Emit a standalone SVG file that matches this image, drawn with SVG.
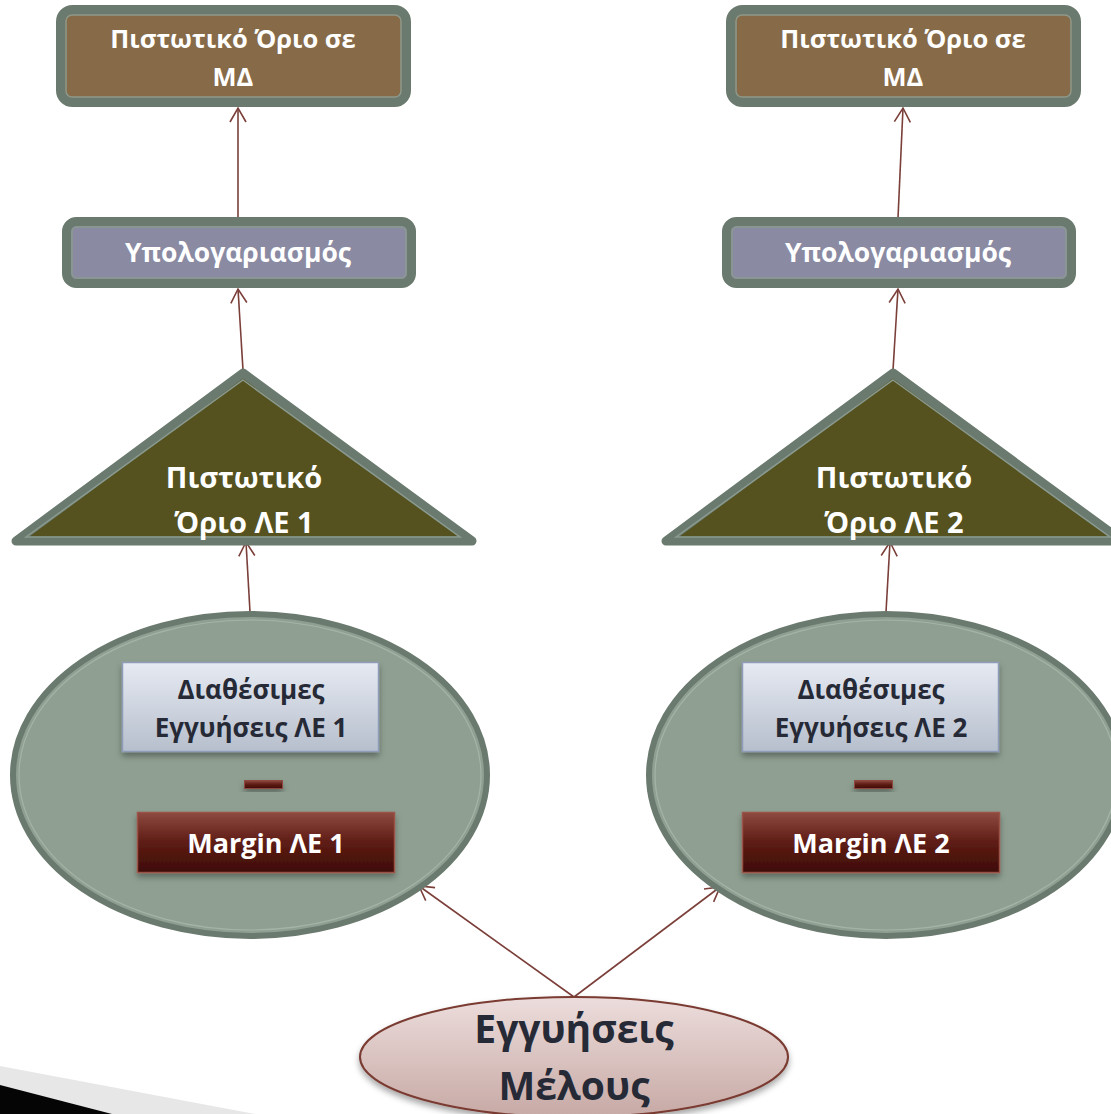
<svg xmlns="http://www.w3.org/2000/svg" width="1111" height="1114" viewBox="0 0 1111 1114">
<style>
.t{font-family:"Open Sans","Noto Sans","DejaVu Sans",sans-serif;font-weight:bold;text-anchor:middle}
.w{fill:#ffffff}
.d{fill:#262a36}
.outer{stroke:#6b7a6f;stroke-width:9}
.oe{stroke:#6b7a6f;stroke-width:6}
.inner{fill:none;stroke:#8a9a8f;stroke-width:1.5}
.ie{fill:none;stroke:#a6b4a8;stroke-width:1.2}
.con{stroke:#7b3f3a;stroke-width:1.6;fill:none}
</style>
<defs>
<marker id="ah" viewBox="0 0 20 20" refX="16" refY="10" markerWidth="20" markerHeight="20" markerUnits="userSpaceOnUse" orient="auto">
<path d="M2,2 L16,10 L2,18" fill="none" stroke="#7b3f3a" stroke-width="1.6"/>
</marker>
<linearGradient id="gBlue" x1="0" y1="0" x2="0" y2="1"><stop offset="0" stop-color="#e6eaf2"/><stop offset="1" stop-color="#b6bfcd"/></linearGradient>
<linearGradient id="gRed" x1="0" y1="0" x2="0" y2="1"><stop offset="0" stop-color="#8d4a40"/><stop offset="0.5" stop-color="#5e1c14"/><stop offset="1" stop-color="#3e0c07"/></linearGradient>
<linearGradient id="gPink" x1="0" y1="0" x2="0" y2="1"><stop offset="0" stop-color="#ecdddc"/><stop offset="1" stop-color="#c7a9a5"/></linearGradient>
<filter id="sh" x="-20%" y="-20%" width="140%" height="160%"><feDropShadow dx="0" dy="4" stdDeviation="3" flood-color="#000" flood-opacity="0.35"/></filter>
</defs>

<!-- background decoration -->
<path d="M0,1066 L255,1114 L0,1114 Z" fill="#e6e7e6"/>
<path d="M0,1085 L112,1114 L0,1114 Z" fill="#050505"/>

<g id="connectors">
<line class="con" x1="238" y1="218" x2="238" y2="108" marker-end="url(#ah)"/>
<line class="con" x1="243" y1="370" x2="238" y2="289" marker-end="url(#ah)"/>
<line class="con" x1="250" y1="612" x2="246" y2="542" marker-end="url(#ah)"/>
<line class="con" x1="898" y1="218" x2="903" y2="108" marker-end="url(#ah)"/>
<line class="con" x1="893" y1="370" x2="898" y2="289" marker-end="url(#ah)"/>
<line class="con" x1="886" y1="612" x2="890" y2="542" marker-end="url(#ah)"/>
<line class="con" x1="574" y1="997" x2="419" y2="886" marker-end="url(#ah)"/>
<line class="con" x1="574" y1="997" x2="720" y2="887" marker-end="url(#ah)"/>
</g>

<g id="limitMD1">
<rect class="outer" x="60.5" y="9.5" width="346" height="93" rx="12" fill="#876b48"/>
<rect class="inner" x="66" y="15" width="335" height="82" rx="6"/>
<text class="t w" x="233" y="48" font-size="25.5">Πιστωτικό Όριο σε</text>
<text class="t w" x="233" y="86" font-size="25.5">ΜΔ</text>
</g>
<g id="limitMD2">
<rect class="outer" x="730.5" y="9.5" width="346" height="93" rx="12" fill="#876b48"/>
<rect class="inner" x="736" y="15" width="335" height="82" rx="6"/>
<text class="t w" x="903" y="48" font-size="25.5">Πιστωτικό Όριο σε</text>
<text class="t w" x="903" y="86" font-size="25.5">ΜΔ</text>
</g>

<g id="calc1">
<rect class="outer" x="66.5" y="221.5" width="345" height="62" rx="10" fill="#8a8aa3"/>
<rect class="inner" x="72" y="227" width="334" height="51" rx="5"/>
<text class="t w" x="238" y="262" font-size="26.5">Υπολογαριασμός</text>
</g>
<g id="calc2">
<rect class="outer" x="726.5" y="221.5" width="345" height="62" rx="10" fill="#8a8aa3"/>
<rect class="inner" x="732" y="227" width="334" height="51" rx="5"/>
<text class="t w" x="898" y="262" font-size="26.5">Υπολογαριασμός</text>
</g>

<g id="limitLE1">
<path class="outer" d="M243,373 L472,541 L16,541 Z" fill="#555220" stroke-linejoin="round"/>
<path class="inner" d="M243,380 L460,537 L26,537 Z"/>
<text class="t w" x="244" y="488" font-size="29">Πιστωτικό</text>
<text class="t w" x="244" y="533" font-size="29">Όριο ΛΕ 1</text>
</g>
<g id="limitLE2">
<path class="outer" d="M893,373 L1122,541 L666,541 Z" fill="#555220" stroke-linejoin="round"/>
<path class="inner" d="M893,380 L1110,537 L676,537 Z"/>
<text class="t w" x="894" y="488" font-size="29">Πιστωτικό</text>
<text class="t w" x="894" y="533" font-size="29">Όριο ΛΕ 2</text>
</g>

<g id="collateral1">
<ellipse class="oe" cx="250" cy="775" rx="237" ry="161" fill="#8fa092"/>
<ellipse class="ie" cx="250" cy="775" rx="231" ry="155"/>
<rect x="122.5" y="662.5" width="256" height="89" fill="url(#gBlue)" stroke="#8e9cb8" stroke-width="1.5" filter="url(#sh)"/>
<text class="t d" x="251" y="699" font-size="26">Διαθέσιμες</text>
<text class="t d" x="251" y="737" font-size="26">Εγγυήσεις ΛΕ 1</text>
<rect x="244.5" y="780.5" width="38" height="8" fill="url(#gRed)" stroke="#8d4a40" stroke-width="1" filter="url(#sh)"/>
<rect x="137.5" y="812.5" width="257" height="60" fill="url(#gRed)" stroke="#9a5247" stroke-width="1.5" filter="url(#sh)"/>
<text class="t w" x="266" y="853" font-size="27">Margin ΛΕ 1</text>
</g>
<g id="collateral2">
<ellipse class="oe" cx="886" cy="775" rx="237" ry="161" fill="#8fa092"/>
<ellipse class="ie" cx="886" cy="775" rx="231" ry="155"/>
<rect x="742.5" y="662.5" width="256" height="89" fill="url(#gBlue)" stroke="#8e9cb8" stroke-width="1.5" filter="url(#sh)"/>
<text class="t d" x="871" y="699" font-size="26">Διαθέσιμες</text>
<text class="t d" x="871" y="737" font-size="26">Εγγυήσεις ΛΕ 2</text>
<rect x="854.5" y="780.5" width="38" height="8" fill="url(#gRed)" stroke="#8d4a40" stroke-width="1" filter="url(#sh)"/>
<rect x="742.5" y="812.5" width="257" height="60" fill="url(#gRed)" stroke="#9a5247" stroke-width="1.5" filter="url(#sh)"/>
<text class="t w" x="871" y="853" font-size="27">Margin ΛΕ 2</text>
</g>

<g id="memberCollateral">
<ellipse cx="574" cy="1057" rx="214" ry="60" fill="url(#gPink)" stroke="#7a3a30" stroke-width="2" filter="url(#sh)"/>
<text class="t d" x="574" y="1043" font-size="39">Εγγυήσεις</text>
<text class="t d" x="574" y="1100" font-size="39">Μέλους</text>
</g>
</svg>
